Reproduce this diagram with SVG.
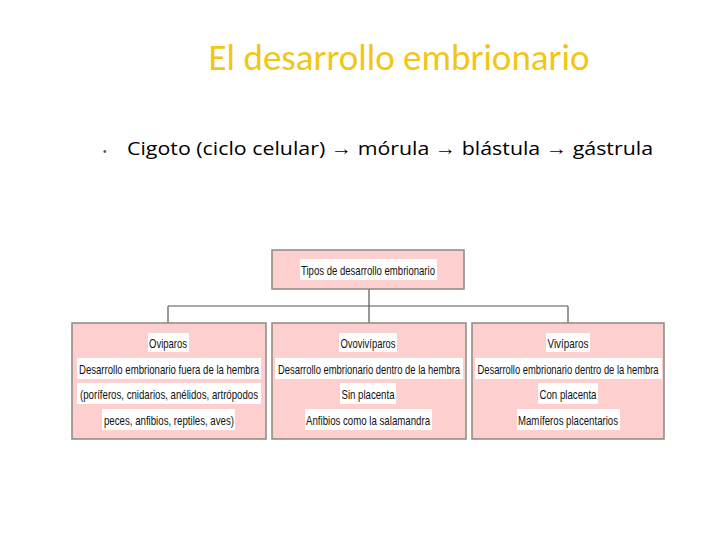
<svg xmlns="http://www.w3.org/2000/svg" width="720" height="540" viewBox="0 0 720 540">
<style>
.box{fill:#fdcfcf;stroke:#8a8a80;stroke-width:1.5}
.hl{fill:#fff}
.t{font-family:"Liberation Sans",Arial,sans-serif;font-size:13px;fill:#111;text-anchor:middle;dominant-baseline:central}
.con{stroke:#555;stroke-width:1.2;fill:none}
</style>
<rect width="720" height="540" fill="#fff"/>
<text x="399" y="70" font-family="Calibri,Carlito,'Liberation Sans',sans-serif" font-size="37" fill="#f2c615" text-anchor="middle">El desarrollo embrionario</text>
<text x="103" y="155" font-family="'Liberation Sans',sans-serif" font-size="10" fill="#555">•</text>
<text x="127" y="155" font-family="'Open Sans','Liberation Sans',sans-serif" font-size="19" fill="#000" textLength="526" lengthAdjust="spacingAndGlyphs">Cigoto (ciclo celular) → mórula → blástula → gástrula</text>
<g id="connectors">
<path class="con" d="M369 289V306M168 306H568M168 306V323M369 306V323M568 306V323"/>
</g>
<g id="root">
<rect class="box" x="272" y="250" width="192" height="39"/>
<rect class="hl" x="300" y="259" width="137" height="21"/>
<text class="t" x="368" y="270" textLength="134" lengthAdjust="spacingAndGlyphs">Tipos de desarrollo embrionario</text>
</g>
<g id="oviparos">
<rect class="box" x="72" y="323" width="194" height="116"/>
<rect class="hl" x="148" y="333" width="41" height="19"/>
<text class="t" x="168" y="343" textLength="38" lengthAdjust="spacingAndGlyphs">Oviparos</text>
<rect class="hl" x="77" y="358" width="184" height="21"/>
<text class="t" x="169" y="369" textLength="180" lengthAdjust="spacingAndGlyphs">Desarrollo embrionario fuera de la hembra</text>
<rect class="hl" x="77" y="383" width="184" height="21"/>
<text class="t" x="169" y="394" textLength="178" lengthAdjust="spacingAndGlyphs">(poríferos, cnidarios, anélidos, artrópodos</text>
<rect class="hl" x="102" y="409" width="133" height="21"/>
<text class="t" x="169" y="420" textLength="130" lengthAdjust="spacingAndGlyphs">peces, anfibios, reptiles, aves)</text>
</g>
<g id="ovoviviparos">
<rect class="box" x="272" y="323" width="194" height="116"/>
<rect class="hl" x="339" y="333" width="58" height="19"/>
<text class="t" x="368" y="343" textLength="55" lengthAdjust="spacingAndGlyphs">Ovovivíparos</text>
<rect class="hl" x="275" y="358" width="188" height="21"/>
<text class="t" x="369" y="369" textLength="182" lengthAdjust="spacingAndGlyphs">Desarrollo embrionario dentro de la hembra</text>
<rect class="hl" x="340" y="383" width="56" height="21"/>
<text class="t" x="368" y="394" textLength="53" lengthAdjust="spacingAndGlyphs">Sin placenta</text>
<rect class="hl" x="305" y="409" width="127" height="21"/>
<text class="t" x="368" y="420" textLength="124" lengthAdjust="spacingAndGlyphs">Anfibios como la salamandra</text>
</g>
<g id="viviparos">
<rect class="box" x="472" y="323" width="192" height="116"/>
<rect class="hl" x="546" y="333" width="44" height="19"/>
<text class="t" x="568" y="343" textLength="41" lengthAdjust="spacingAndGlyphs">Vivíparos</text>
<rect class="hl" x="475" y="358" width="187" height="21"/>
<text class="t" x="568" y="369" textLength="181" lengthAdjust="spacingAndGlyphs">Desarrollo embrionario dentro de la hembra</text>
<rect class="hl" x="538" y="383" width="60" height="21"/>
<text class="t" x="568" y="394" textLength="57" lengthAdjust="spacingAndGlyphs">Con placenta</text>
<rect class="hl" x="517" y="409" width="103" height="21"/>
<text class="t" x="568" y="420" textLength="100" lengthAdjust="spacingAndGlyphs">Mamíferos placentarios</text>
</g>
</svg>
